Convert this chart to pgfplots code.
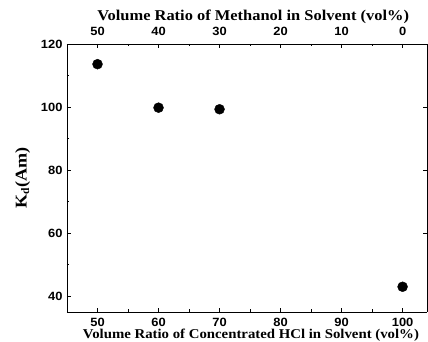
\documentclass[border=0pt]{standalone}
\usepackage{pgfplots}
\pgfplotsset{compat=1.18}
\usepackage{fontspec}
\setmainfont{Liberation Serif}
\setsansfont{Liberation Sans}
\newfontfamily\labfont[FakeStretch=1.1]{Liberation Serif}
\newfontfamily\tickfont[FakeStretch=1.08]{Liberation Sans}
\begin{document}
\begin{tikzpicture}
\pgfplotsset{
  common/.style={
    scale only axis, width=360bp, height=268bp,
    xmin=45, xmax=104, ymin=35, ymax=120,
    tick align=inside,
    major tick length=4bp, minor tick length=2.5bp,
    every tick/.style={black, line width=0.9pt},
    axis line style={line width=0.9pt},
    /pgf/number format/assume math mode=true,
    tick label style={font=\fontsize{12}{14}\selectfont\tickfont\bfseries},
  }
}
\begin{axis}[common,
  axis x line*=bottom, axis y line*=left,
  xtick={50,60,70,80,90,100},
  minor xtick={55,65,75,85,95},
  ytick={40,60,80,100,120},
  minor ytick={50,70,90,110},
  xlabel={Volume Ratio of Concentrated HCl in Solvent (vol\%)},
  ylabel={K$_{\mathbf{d}}$(Am)},
  xlabel style={font=\fontsize{13.5}{15}\selectfont\labfont\bfseries,
    at={(axis description cs:0.511,0)}, anchor=base, inner sep=0pt, yshift=-27bp},
  ylabel style={font=\fontsize{16.5}{18}\selectfont\labfont\bfseries, yshift=4bp},
  xticklabel style={inner sep=0pt, yshift=-6bp},
  yticklabel style={xshift=-1bp},
]
\addplot[only marks, mark=*, mark size=5pt, black] coordinates {
  (50,113.6) (60,99.8) (70,99.3) (100,43.0)
};
\coordinate (sw) at (rel axis cs:0,0);
\coordinate (ne) at (rel axis cs:1,1);
\end{axis}
\begin{axis}[common,
  axis x line*=top, axis y line*=right,
  xtick={50,60,70,80,90,100},
  xticklabels={50,40,30,20,10,0},
  minor xtick={55,65,75,85,95},
  ytick={60,80,100}, yticklabels={},
  minor ytick={},
  xlabel={Volume Ratio of Methanol in Solvent (vol\%)},
  xlabel style={font=\fontsize{15}{17}\selectfont\labfont\bfseries,
    at={(axis description cs:0.517,1)}, anchor=base, inner sep=0pt, yshift=23.5bp},
  xticklabel style={anchor=base, inner sep=0pt, yshift=8bp},
]
\end{axis}
\pgfresetboundingbox
\path ([xshift=-67bp,yshift=-30bp]sw) rectangle ([xshift=1bp,yshift=44bp]ne);
\end{tikzpicture}
\end{document}
